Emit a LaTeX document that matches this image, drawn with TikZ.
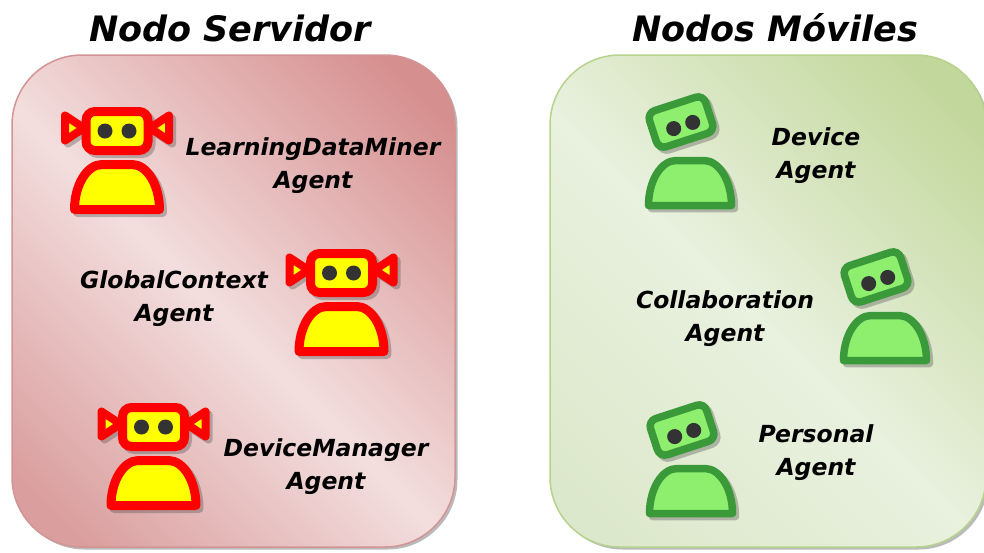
\documentclass[tikz,border=0pt]{standalone}
\usepackage{fontspec}
\setmainfont{DejaVu Sans}
\definecolor{srvdark}{HTML}{D68F8F}
\definecolor{srvlight}{HTML}{F3DEDE}
\definecolor{srvlow}{HTML}{DA9E9E}
\definecolor{srvedge}{HTML}{D29494}
\definecolor{movdark}{HTML}{C2D79B}
\definecolor{movlight}{HTML}{E9F1DF}
\definecolor{movlow}{HTML}{DCE8CB}
\definecolor{movedge}{HTML}{B6D38C}
\definecolor{botred}{HTML}{FF0000}
\definecolor{botyellow}{HTML}{FFFF00}
\definecolor{botgreenline}{HTML}{3A9A3A}
\definecolor{botgreenfill}{HTML}{8EEE6E}
\definecolor{boteye}{HTML}{333333}

% panel gradients: dark corner, light diagonal band, dark corner
\pgfdeclarehorizontalshading{srvshade}{100bp}{color(0bp)=(srvlow); color(20bp)=(srvlow);
  color(48bp)=(srvlight); color(80bp)=(srvdark); color(100bp)=(srvdark)}
\pgfdeclarehorizontalshading{movshade}{100bp}{color(0bp)=(movlow); color(20bp)=(movlow);
  color(48bp)=(movlight); color(80bp)=(movdark); color(100bp)=(movdark)}

% red robot with ears; origin at the centre of the head
\newcommand\redbotshapes[3]{%
  \path[draw=#1,fill=#2,line width=8,line join=round]
    (-33,-3) -- (-52,-15.5) -- (-52,9.5) -- cycle;
  \path[draw=#1,fill=#2,line width=8,line join=round]
    (33,-3) -- (52,-15.5) -- (52,9.5) -- cycle;
  \path[draw=#1,fill=#2,line width=9,rounded corners=9]
    (-31,-19.5) rectangle (31,19.5);
  \fill[#3] (-12,0) circle (7.5) (12,0) circle (7.5);
  \path[draw=#1,fill=#2,line width=9,line join=round]
    (-42.5,78.5) .. controls (-42.5,54) and (-30,33.5) .. (-15,33.5)
    -- (15,33.5) .. controls (30,33.5) and (42.5,54) .. (42.5,78.5) -- cycle;
}
% green robot with tilted head; origin at the centre of the head
\newcommand\greenbotshapes[3]{%
  \begin{scope}[rotate=18]
    \path[draw=#1,fill=#2,line width=7.5,rounded corners=8]
      (-29.5,-19) rectangle (29.5,19);
    \fill[#3] (-9,4) circle (7.5) (11,4) circle (7.5);
  \end{scope}
  \begin{scope}[xshift=9]
    \path[draw=#1,fill=#2,line width=7.5,line join=round]
      (-41.5,83.5) .. controls (-41.5,59) and (-29,38.5) .. (-14,38.5)
      -- (14,38.5) .. controls (29,38.5) and (41.5,59) .. (41.5,83.5) -- cycle;
  \end{scope}
}

\tikzset{
  redbot/.pic={
    \begin{scope}[shift={(3,3)},transparency group,opacity=.35]
      \redbotshapes{black!70}{black!70}{black!70}
    \end{scope}
    \redbotshapes{botred}{botyellow}{boteye}
  },
  greenbot/.pic={
    \begin{scope}[shift={(3,3)},transparency group,opacity=.35]
      \greenbotshapes{black!70}{black!70}{black!70}
    \end{scope}
    \greenbotshapes{botgreenline}{botgreenfill}{boteye}
  },
  title/.style={font=\fontsize{35}{40}\selectfont\bfseries\itshape,
    anchor=base, inner sep=0},
  agentlabel/.style={font=\fontsize{23.5}{33}\selectfont\bfseries\itshape,
    align=center, inner sep=0},
  nodebox/.style={rounded corners=70, line width=1.5},
}

\begin{document}
\begin{tikzpicture}[x=1pt,y=-1pt]
  \useasboundingbox (0,0) rectangle (984,552);

  % server node panel
  \fill[black!45,opacity=.6,rounded corners=70] (14.5,57.5) rectangle (457.5,549.5);
  \path[nodebox,draw=srvedge,shading=srvshade,shading angle=45]
    (12,55) rectangle (455,547);

  % mobile nodes panel
  \fill[black!45,opacity=.6,rounded corners=70] (552.5,57.5) rectangle (988.5,549.5);
  \path[nodebox,draw=movedge,shading=movshade,shading angle=45]
    (550,55) rectangle (986,547);

  % titles
  \node[title] (srvtitle) at (230,41) {Nodo Servidor};
  \node[title] (movtitle) at (775,41) {Nodos Móviles};

  % server agents
  \pic (ldm) at (117,131) {redbot};
  \pic (gca) at (341.5,273) {redbot};
  \pic (dma) at (153.5,427) {redbot};
  \node[agentlabel] (ldmlabel) at (313,166) {LearningDataMiner\\Agent};
  \node[agentlabel] (gcalabel) at (174,299) {GlobalContext\\Agent};
  \node[agentlabel] (dmalabel) at (326,467) {DeviceManager\\Agent};

  % mobile agents
  \pic (dev) at (681,122) {greenbot};
  \pic (col) at (876,277) {greenbot};
  \pic (per) at (682,430) {greenbot};
  \node[agentlabel] (devlabel) at (816,156) {Device\\Agent};
  \node[agentlabel] (collabel) at (725,319) {Collaboration\\Agent};
  \node[agentlabel] (perlabel) at (816,453) {Personal\\Agent};
\end{tikzpicture}
\end{document}
